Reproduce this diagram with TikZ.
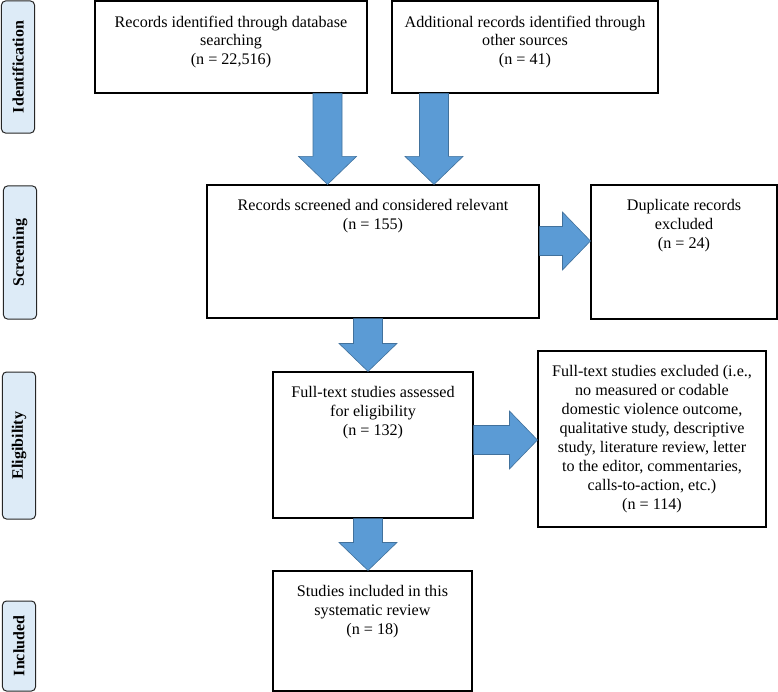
\documentclass[tikz,border=0pt]{standalone}
\usepackage{fontspec}
\setmainfont{Liberation Serif}
\usepackage{tikz}
\usetikzlibrary{calc,positioning}

\definecolor{arrowblue}{RGB}{91,155,213}
\definecolor{arrowedge}{RGB}{65,113,156}
\definecolor{stagefill}{RGB}{221,235,247}

% fat block arrow from #1 to #2
\newcommand{\fatarrow}[2]{%
  \path (#1) coordinate (fa-from) (#2) coordinate (fa-to);
  \path ($(fa-to)!28bp!(fa-from)$) coordinate (fa-head);
  \filldraw[fatarrow] ($(fa-from)!14.5bp!90:(fa-to)$) -- ($(fa-head)!14.5bp!90:(fa-to)$)
    -- ($(fa-head)!29bp!90:(fa-to)$) -- (fa-to) -- ($(fa-head)!29bp!-90:(fa-to)$)
    -- ($(fa-head)!14.5bp!-90:(fa-to)$) -- ($(fa-from)!14.5bp!-90:(fa-to)$) -- cycle;
}

\begin{document}
\begin{tikzpicture}[x=1bp,y=-1bp]
\useasboundingbox (0,0) rectangle (778,692);

% Define box, stage and arrow styles
\tikzstyle{box} =[draw, line width=1.1bp, inner sep=0pt]
\tikzstyle{boxtext} =[align=center, inner sep=0pt,
                      font=\fontsize{16.2}{19}\selectfont]
\tikzstyle{stage} =[draw=black!85, fill=stagefill, rounded corners=4bp,
                    line width=1bp, rotate=90, inner sep=0pt,
                    font=\bfseries\fontsize{16}{18}\selectfont]
\tikzstyle{fatarrow} =[fill=arrowblue, draw=arrowedge, line width=0.6bp]

% stage labels on the left
\foreach \nm/\cx/\cy/\len/\txt in {idn/18/67/132/Identification,
    scr/20/252.5/133/Screening, elig/19/445.5/147/Eligibility,
    incl/19/646/90/Included}{
  \node[stage, minimum width=\len bp, minimum height=33bp] (\nm) at (\cx,\cy) {\txt};
}

% boxes
\node[box, minimum width=272bp, minimum height=92bp] (db) at (231,47) {};
\node[boxtext, below=15bp of db.north] (dbtxt)
  {Records identified through database\\searching\\(n = 22,516)};
\node[box, minimum width=266bp, minimum height=92bp] (other) at (525,47) {};
\node[boxtext, below=15bp of other.north] (othertxt)
  {Additional records identified through\\other sources\\(n = 41)};
\node[box, minimum width=332bp, minimum height=133bp] (screen) at (373,251.5) {};
\node[boxtext, below=15bp of screen.north] (screentxt)
  {Records screened and considered relevant\\(n = 155)};
\node[box, minimum width=186bp, minimum height=134bp] (dup) at (684,252) {};
\node[boxtext, below=15bp of dup.north] (duptxt)
  {Duplicate records\\excluded\\(n = 24)};
\node[box, minimum width=200bp, minimum height=146bp] (full) at (373,445) {};
\node[boxtext, below=15bp of full.north] (fulltxt)
  {Full-text studies assessed\\for eligibility\\(n = 132)};
\node[box, minimum width=228bp, minimum height=176bp] (excl) at (652,439) {};
\node[boxtext, below=15bp of excl.north] (excltxt)
  {Full-text studies excluded (i.e.,\\no measured or codable\\domestic violence outcome,\\
   qualitative study, descriptive\\study, literature review, letter\\
   to the editor, commentaries,\\calls-to-action, etc.)\\(n = 114)};
\node[box, minimum width=199bp, minimum height=120bp] (incl) at (372.5,631) {};
\node[boxtext, below=15bp of incl.north] (incltxt)
  {Studies included in this\\systematic review\\(n = 18)};

% arrows
\coordinate (a1) at (327.5,0);
\coordinate (a2) at (434,0);
\coordinate (a3) at (368,0);
\coordinate (r1) at (0,241);
\coordinate (r2) at (0,440);
\fatarrow{a1 |- db.south}{a1 |- screen.north}
\fatarrow{a2 |- other.south}{a2 |- screen.north}
\fatarrow{a3 |- screen.south}{a3 |- full.north}
\fatarrow{a3 |- full.south}{a3 |- incl.north}
\fatarrow{screen.east |- r1}{dup.west |- r1}
\fatarrow{full.east |- r2}{excl.west |- r2}

\end{tikzpicture}
\end{document}
